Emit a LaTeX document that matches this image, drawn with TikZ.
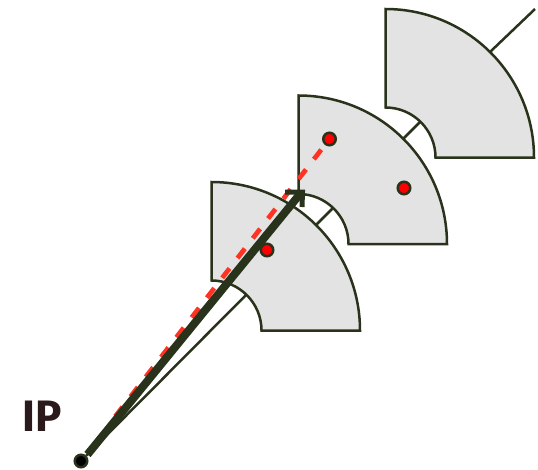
\documentclass[tikz,border=0pt]{standalone}
\usepackage{fontspec}
\setmainfont{Fira Sans}
\definecolor{dk}{HTML}{29321A}
\definecolor{sec}{HTML}{E3E3E3}
\definecolor{ipc}{HTML}{2A1A1C}
\definecolor{rd}{HTML}{FF3322}
\tikzset{
  x=1pt,y=-1pt,
  sector/.style={draw=dk,fill=sec,line width=2.5pt,line join=miter},
  ray/.style={draw=dk,line width=2.5pt},
  track/.style={draw=dk,line width=8pt},
  barb/.style={draw=dk,line width=5pt,line join=miter,line cap=butt},
  hit/.style={circle,draw=dk,fill=red,line width=2.5pt,minimum size=12.5pt,inner sep=0pt},
  ipdot/.style={circle,draw=dk,fill=black,line width=2.5pt,minimum size=12.5pt,inner sep=0pt},
  reddash/.style={draw=rd,line width=4.7pt,dash pattern=on 12pt off 13pt,dash phase=19pt},
  iplabel/.style={text=ipc,inner sep=0pt,font=\fontsize{44}{44}\selectfont\bfseries}
}
\begin{document}
\begin{tikzpicture}
\useasboundingbox (0,0) rectangle (538,469);
\coordinate (ipc) at (81,461);
\coordinate (a1) at (246,295);
\coordinate (a2) at (316,225);
\coordinate (a3) at (333,208);
\coordinate (a4) at (403,139);
\coordinate (a5) at (420,122);
\coordinate (a6) at (490,52);
\coordinate (a7) at (535,9);
\coordinate (tstart) at (87.5,454.5);
\coordinate (ttip) at (300,194);
\coordinate (tl) at (285,192);
\coordinate (tr) at (302,207);
\coordinate (tapex) at (302.5,192);
\coordinate (redend) at (114,418);
% sectors
\path[sector] (211.5,182) arc[start angle=-90,end angle=0,radius=148.5] -- (261.5,330.5) arc[start angle=0,end angle=-90,radius=50] -- cycle;
\path[sector] (298.5,95.5) arc[start angle=-90,end angle=0,radius=148.5] -- (348.5,244) arc[start angle=0,end angle=-90,radius=50] -- cycle;
\path[sector] (385.5,9) arc[start angle=-90,end angle=0,radius=148.5] -- (435.5,157.5) arc[start angle=0,end angle=-90,radius=50] -- cycle;
% straight track
\node[ipdot] (ip) at (ipc) {};
\draw[ray] (ip) -- (a1);
\draw[ray] (a2) -- (a3);
\draw[ray] (a4) -- (a5);
\draw[ray] (a6) -- (a7);
% hits
\node[hit] (h1) at (267,250) {};
\node[hit] (h2) at (404,188) {};
\node[hit] (h3) at (329.5,139) {};
% curved-track fit, dashed
\draw[reddash] (h3) -- (redend);
% thick arrow
\draw[track] (tstart) -- (ttip);
\draw[barb] (tl) -- (tapex) -- (tr);
\node[iplabel] (iplab) at (42,416) {IP};
\end{tikzpicture}
\end{document}
